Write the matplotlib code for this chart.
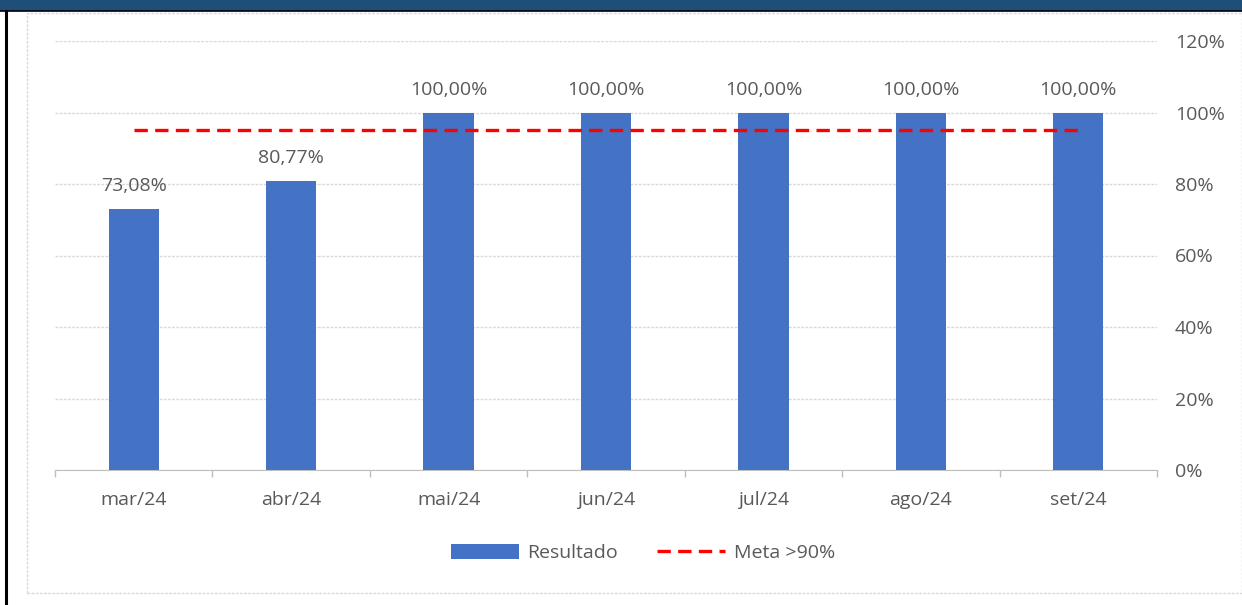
import matplotlib
matplotlib.use("Agg")
import matplotlib.pyplot as plt
from matplotlib.patches import Rectangle
from matplotlib.lines import Line2D

categories = ["mar/24", "abr/24", "mai/24", "jun/24", "jul/24", "ago/24", "set/24"]
resultado = [0.7308, 0.8077, 1.0, 1.0, 1.0, 1.0, 1.0]
resultado_labels = ["73,08%", "80,77%", "100,00%", "100,00%", "100,00%", "100,00%", "100,00%"]
meta = [0.95, 0.95, 0.95, 0.95, 0.95, 0.95, 0.95]
yticks = [0, 0.2, 0.4, 0.6, 0.8, 1.0, 1.2]
ytick_labels = ["0%", "20%", "40%", "60%", "80%", "100%", "120%"]

plt.rcParams['font.family'] = ['Open Sans', 'DejaVu Sans']
FS = 14
W, H = 1242, 605
fig = plt.figure(figsize=(W/100, H/100), dpi=100)
fig.patch.set_facecolor("white")

def px(x0, y0, x1, y1):
    return [x0/W, 1 - y1/H, (x1-x0)/W, (y1-y0)/H]

# decorations
fig.patches.append(Rectangle((0, 1 - 11/H), 1, 11/H, transform=fig.transFigure,
                             facecolor="#1F4E79", edgecolor="none", zorder=0))
fig.add_artist(Line2D([0, W], [H-11, H-11], transform=None, color="black", lw=1.2))
fig.add_artist(Line2D([6/W, 6/W], [0, 1 - 11/H], transform=fig.transFigure, color="black", lw=2.2))
fig.patches.append(Rectangle((27/W, 1 - 593/H), (W-27)/W, (593-13)/H, transform=fig.transFigure,
                             facecolor="none", edgecolor="#D9D9D9", lw=1, linestyle=(0, (2, 1))))

ax = fig.add_axes(px(55, 41, 1157, 470))
x = list(range(len(categories)))
bars = ax.bar(x, resultado, width=0.32, color="#4472C4", zorder=3, label="Resultado")
ax.plot(x, meta, color="#FF0000", lw=2.4, linestyle=(0, (4, 2.2)), zorder=4, label="Meta >90%")

for xi, v, lab in zip(x, resultado, resultado_labels):
    ax.annotate(lab, (xi, v), xytext=(0, 10), textcoords="offset points", ha="center", va="bottom",
                fontsize=FS, color="#595959")

ax.set_xlim(-0.5, len(categories) - 0.5)
ax.set_ylim(0, 1.2)
ax.set_yticks(yticks)
ax.set_yticklabels(ytick_labels, fontsize=FS, color="#595959")
ax.yaxis.tick_right()
ax.tick_params(axis="y", length=0, pad=13)
ax.set_xticks(x)
ax.set_xticklabels(categories, fontsize=FS, color="#595959")
ax.tick_params(axis="x", length=0, pad=15)
ax.set_xticks([i - 0.5 for i in range(len(categories) + 1)], minor=True)
ax.tick_params(axis="x", which="minor", length=5, color="#BFBFBF", width=1)
ax.grid(axis="y", color="#D9D9D9", lw=1, linestyle=(0, (2, 1)), zorder=0)
for s in ["top", "right", "left"]:
    ax.spines[s].set_visible(False)
ax.spines["bottom"].set_color("#BFBFBF")
ax.spines["bottom"].set_linestyle((0, (2, 1)))

leg = fig.legend(handles=[bars, ax.lines[0]], labels=["Resultado", "Meta >90%"], loc="center",
                 bbox_to_anchor=(643/W, 1 - 553/H), ncol=2, frameon=False, fontsize=FS,
                 handlelength=3.5, handleheight=0.85, columnspacing=2.0, handletextpad=0.45)
for t in leg.get_texts():
    t.set_color("#595959")

fig.savefig("out.png", dpi=100)
